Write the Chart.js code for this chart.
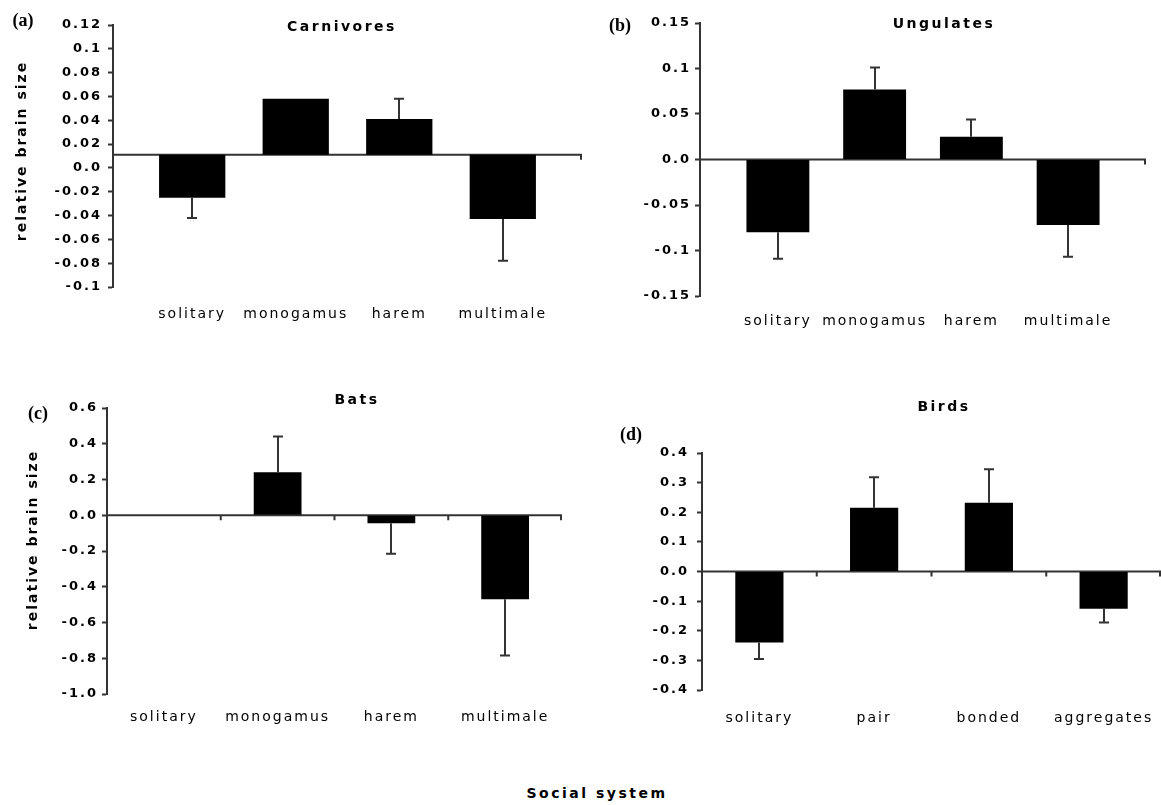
<!DOCTYPE html>
<html>
<head>
<meta charset="utf-8">
<script src="https://cdn.jsdelivr.net/npm/chart.js@4/dist/chart.umd.min.js"></script>
<style>
  html, body { margin: 0; padding: 0; background: #fff; }
  #page { position: relative; width: 1161px; height: 805px; overflow: hidden;
          font-family: "DejaVu Sans", sans-serif; color: #000; }
  .panel { position: absolute; }
  .lab { position: absolute; white-space: nowrap; transform: translate(-50%, -50%); }
  .tag { font-family: "Liberation Serif", serif; font-weight: bold; font-size: 18px; }
  .ttl { font-weight: bold; font-size: 14px; letter-spacing: 2.5px; }
  .ytl { font-weight: bold; font-size: 14px; letter-spacing: 2px;
         transform: translate(-50%, -50%) rotate(-90deg); }
</style>
</head>
<body>
<div id="page">
  <canvas id="carn" class="panel" style="left:0;top:0" width="600" height="340"></canvas>
  <canvas id="ungu" class="panel" style="left:600px;top:0" width="561" height="340"></canvas>
  <canvas id="bats" class="panel" style="left:0;top:370px" width="600" height="370"></canvas>
  <canvas id="bird" class="panel" style="left:600px;top:370px" width="561" height="370"></canvas>

  <div class="lab tag" style="left:23px;top:20px">(a)</div>
  <div class="lab ttl" style="left:342px;top:26px">Carnivores</div>
  <div class="lab tag" style="left:620px;top:25px">(b)</div>
  <div class="lab ttl" style="left:944px;top:23px">Ungulates</div>
  <div class="lab tag" style="left:38px;top:413px">(c)</div>
  <div class="lab ttl" style="left:357px;top:399px">Bats</div>
  <div class="lab tag" style="left:631px;top:434px">(d)</div>
  <div class="lab ttl" style="left:944px;top:406px">Birds</div>
  <div class="lab ytl" style="left:21px;top:151px">relative brain size</div>
  <div class="lab ytl" style="left:32px;top:540px">relative brain size</div>
  <div class="lab ttl" style="left:597px;top:793px">Social system</div>
</div>

<script>
// ---- (a) Carnivores ----
const carnivoreCats  = ['solitary', 'monogamus', 'harem', 'multimale'];
const carnivoreMeans = [-0.025, 0.058, 0.041, -0.043];
const carnivoreErrs  = [-0.042, null, 0.058, -0.078];
const carnivoreTicks = ['0.12', '0.1', '0.08', '0.06', '0.04', '0.02', '0.0', '-0.02', '-0.04', '-0.06', '-0.08', '-0.1'];
const carnivoreBase  = 0.011;   // the category axis crosses here

// ---- (b) Ungulates ----
const ungulateCats  = ['solitary', 'monogamus', 'harem', 'multimale'];
const ungulateMeans = [-0.080, 0.077, 0.025, -0.072];
const ungulateErrs  = [-0.109, 0.101, 0.044, -0.107];
const ungulateTicks = ['0.15', '0.1', '0.05', '0.0', '-0.05', '-0.1', '-0.15'];
const ungulateBase  = 0;

// ---- (c) Bats ----
const batCats  = ['solitary', 'monogamus', 'harem', 'multimale'];
const batMeans = [null, 0.24, -0.045, -0.47];
const batErrs  = [null, 0.44, -0.215, -0.785];
const batTicks = ['0.6', '0.4', '0.2', '0.0', '-0.2', '-0.4', '-0.6', '-0.8', '-1.0'];
const batBase  = 0;

// ---- (d) Birds ----
const birdCats  = ['solitary', 'pair', 'bonded', 'aggregates'];
const birdMeans = [-0.240, 0.215, 0.232, -0.126];
const birdErrs  = [-0.295, 0.318, 0.345, -0.172];
const birdTicks = ['0.4', '0.3', '0.2', '0.1', '0.0', '-0.1', '-0.2', '-0.3', '-0.4'];
const birdBase  = 0;

const INK = '#333';

// Spaced-out lettering for the canvas text
const spacingPlugin = {
  id: 'letterSpacing',
  beforeUpdate(c) { c.ctx.letterSpacing = '2px'; },
  beforeLayout(c) { c.ctx.letterSpacing = '2px'; },
  beforeDraw(c)   { c.ctx.letterSpacing = '2px'; }
};

// Crossing line for the categories plus the error bars
function overlayPlugin(p) {
  return {
    id: 'overlay',
    beforeDatasetsDraw(chart) {
      const { ctx, chartArea: a, scales: { x, y } } = chart;
      const yb = y.getPixelForValue(p.base);
      ctx.save();
      ctx.strokeStyle = INK;
      ctx.lineWidth = 2;
      ctx.beginPath();
      ctx.moveTo(a.left, yb);
      ctx.lineTo(a.right, yb);
      ctx.moveTo(a.right - 1, yb);
      ctx.lineTo(a.right - 1, yb + 5);
      if (p.boundaryTicks) {
        for (let i = 1; i < p.cats.length; i++) {
          const bx = x.getPixelForValue(i + 0.5);
          ctx.moveTo(bx, yb);
          ctx.lineTo(bx, yb + 5);
        }
      }
      ctx.stroke();
      ctx.restore();
    },
    afterDatasetsDraw(chart) {
      const { ctx, scales: { x, y } } = chart;
      ctx.save();
      ctx.strokeStyle = INK;
      ctx.lineWidth = 2;
      p.means.forEach((m, i) => {
        const e = p.errs[i];
        if (m == null || e == null) return;
        const cx = Math.round(x.getPixelForValue(i + 1));
        const y0 = y.getPixelForValue(m);
        const y1 = y.getPixelForValue(e);
        ctx.beginPath();
        ctx.moveTo(cx, y0);
        ctx.lineTo(cx, y1);
        ctx.moveTo(cx - 5, y1);
        ctx.lineTo(cx + 5, y1);
        ctx.stroke();
      });
      ctx.restore();
    }
  };
}

function makePanel(id, p) {
  const tickVals = p.ticks.map(Number);
  new Chart(document.getElementById(id), {
    type: 'bar',
    data: {
      datasets: [{
        data: p.means.map((v, i) => ({ x: i + 1, y: v })),
        base: p.base,
        backgroundColor: '#000',
        borderWidth: 0,
        barPercentage: p.barPct,
        categoryPercentage: 1
      }]
    },
    options: {
      responsive: false,
      animation: false,
      layout: { padding: p.pad },
      plugins: { legend: { display: false }, tooltip: { enabled: false } },
      scales: {
        x: {
          type: 'linear',
          min: p.xMin, max: p.xMax,
          offset: false,
          grid: { display: false },
          border: { display: false },
          ticks: {
            autoSkip: false, maxRotation: 0, padding: p.xPad, color: '#000',
            font: { family: '"DejaVu Sans", sans-serif', size: 14 },
            callback: v => p.cats[v - 1] ?? ''
          },
          afterBuildTicks: s => { s.ticks = p.cats.map((c, i) => ({ value: i + 1 })); },
          afterFit: s => { s.height = p.xHeight; s.paddingLeft = 0; s.paddingRight = 0; }
        },
        y: {
          min: Math.min(...tickVals), max: Math.max(...tickVals),
          grid: { drawOnChartArea: false, drawTicks: true, tickLength: 5,
                  tickColor: INK, tickWidth: 2 },
          border: { display: true, color: INK, width: 2 },
          ticks: {
            padding: p.yPad, color: '#000',
            font: { family: '"DejaVu Sans", sans-serif', size: 13, weight: 'bold' },
            callback: v => p.ticks[tickVals.findIndex(t => Math.abs(t - v) < 1e-9)]
          },
          afterBuildTicks: s => { s.ticks = tickVals.slice().sort((a, b) => a - b).map(v => ({ value: v })); },
          afterFit: s => { s.width = p.yWidth; }
        }
      }
    },
    plugins: [spacingPlugin, overlayPlugin(p)]
  });
}

makePanel('carn', {
  cats: carnivoreCats, means: carnivoreMeans, errs: carnivoreErrs, ticks: carnivoreTicks,
  base: carnivoreBase, boundaryTicks: false,
  xMin: 0.235, xMax: 4.765, barPct: 0.64,
  pad: { top: 25, right: 18, left: 0, bottom: 0 }, yWidth: 113, yPad: 6, xHeight: 53, xPad: 11
});
makePanel('ungu', {
  cats: ungulateCats, means: ungulateMeans, errs: ungulateErrs, ticks: ungulateTicks,
  base: ungulateBase, boundaryTicks: false,
  xMin: 0.195, xMax: 4.805, barPct: 0.65,
  pad: { top: 23, right: 15, left: 0, bottom: 0 }, yWidth: 100, yPad: 4, xHeight: 44, xPad: 9
});
makePanel('bats', {
  cats: batCats, means: batMeans, errs: batErrs, ticks: batTicks,
  base: batBase, boundaryTicks: true,
  xMin: 0.5, xMax: 4.5, barPct: 0.42,
  pad: { top: 38, right: 38, left: 0, bottom: 0 }, yWidth: 107, yPad: 4, xHeight: 46, xPad: 7
});
makePanel('bird', {
  cats: birdCats, means: birdMeans, errs: birdErrs, ticks: birdTicks,
  base: birdBase, boundaryTicks: true,
  xMin: 0.5, xMax: 4.5, barPct: 0.42,
  pad: { top: 83, right: 0, left: 0, bottom: 0 }, yWidth: 102, yPad: 8, xHeight: 50, xPad: 12
});
</script>
</body>
</html>
